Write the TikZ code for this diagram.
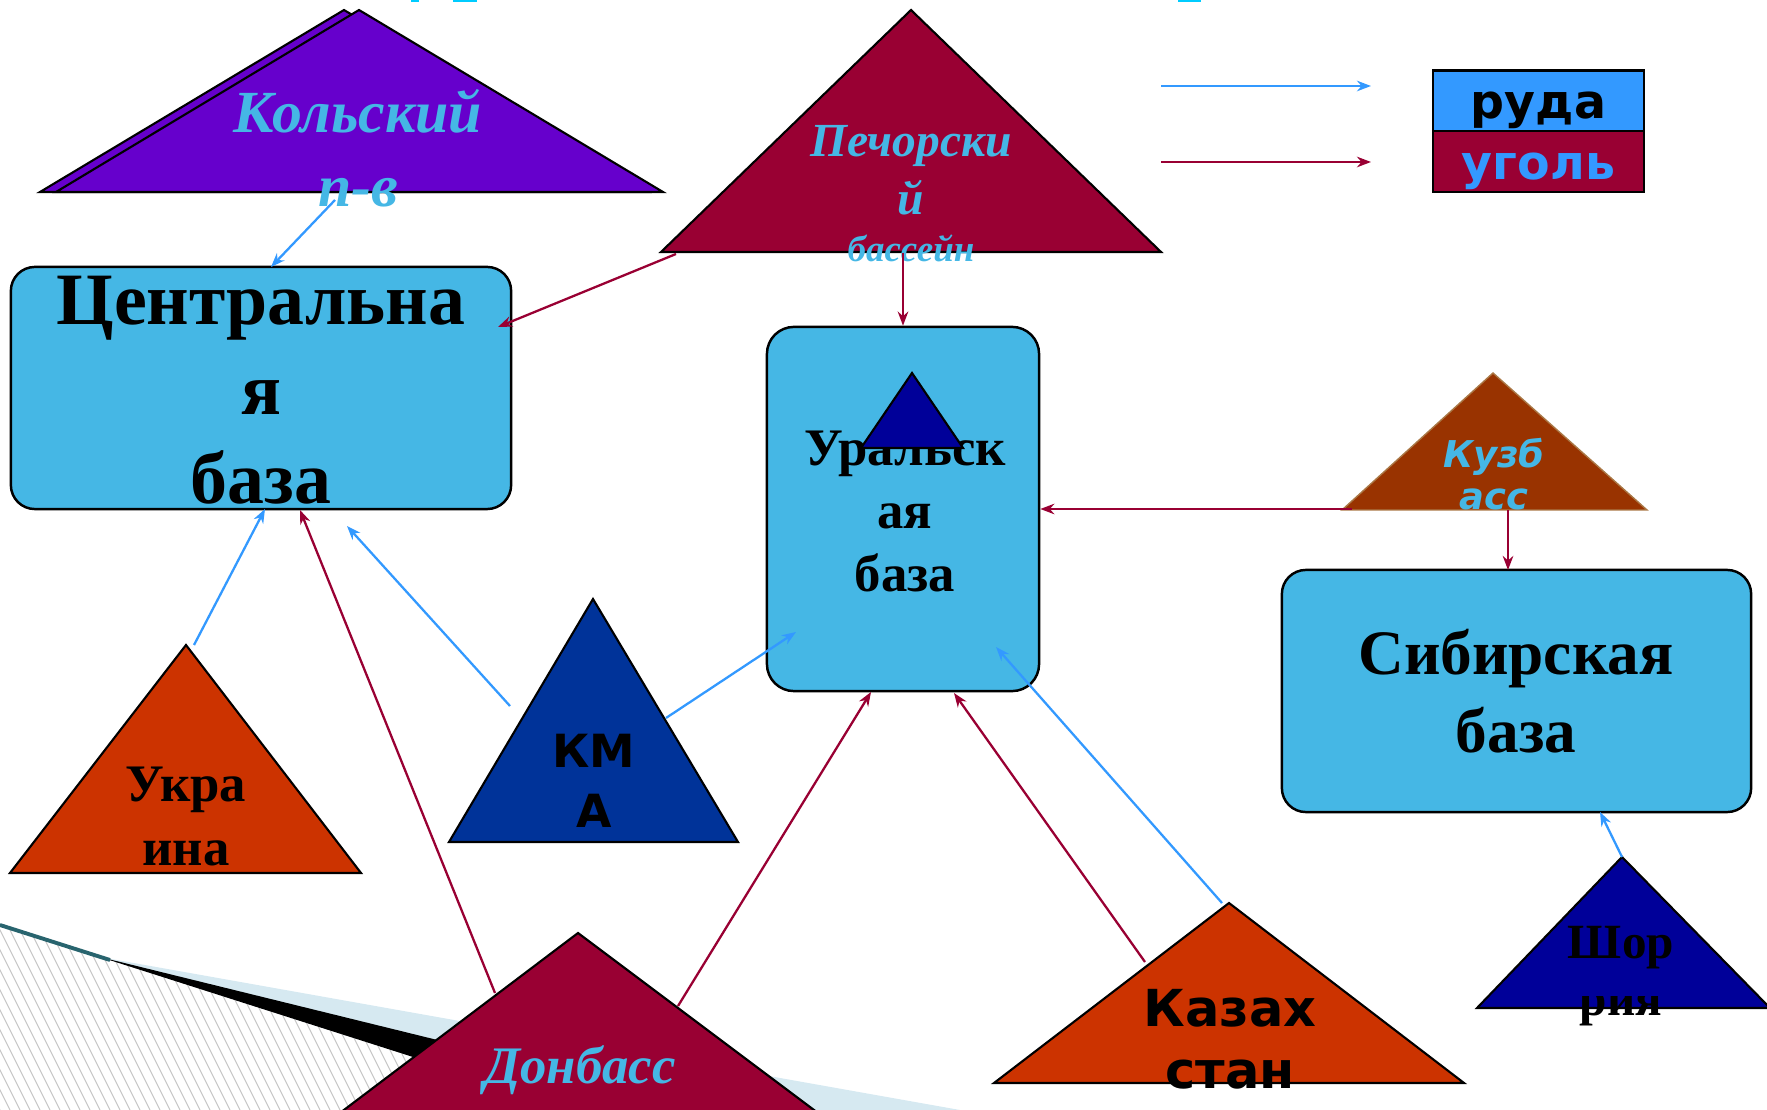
\documentclass[tikz,border=0pt]{standalone}
\usepackage{fontspec}
\setmainfont{Liberation Serif}
\newfontfamily\vrd{DejaVu Sans}
\usetikzlibrary{arrows.meta}
\definecolor{baseC} {RGB}{ 69, 183, 229}
\definecolor{txtC}  {RGB}{ 69, 183, 229}
\definecolor{oreC}  {RGB}{ 51, 153, 255}
\definecolor{coalC} {RGB}{153,   0,  51}
\definecolor{kolaC} {RGB}{102,   0, 204}
\definecolor{redC}  {RGB}{204,  51,   0}
\definecolor{kmaC}  {RGB}{  0,  51, 153}
\definecolor{navyC} {RGB}{  0,   0, 153}
\definecolor{kuzC}  {RGB}{153,  51,   0}
\definecolor{kuzL}  {RGB}{170, 120,  70}
\definecolor{decoC} {RGB}{214, 233, 241}
\definecolor{tealC} {RGB}{ 40, 100, 110}
\definecolor{titleC}{RGB}{  0, 204, 255}
\tikzset{
  basebox/.style = {rectangle, draw=black, fill=baseC, line width=0.7pt,
                    rounded corners=0.24cm, inner sep=0pt},
  legbox/.style  = {rectangle, draw=black, line width=0.7pt, inner sep=0pt,
                    minimum width=2.11cm, minimum height=0.605cm,
                    font=\vrd\bfseries\fontsize{13.5}{16}\selectfont,
                    text height=10pt, text depth=0pt},
  tri/.style     = {draw=black, line width=0.6pt},
  ore/.style     = {-{Stealth[length=4pt,width=3pt]}, draw=oreC,  line width=0.65pt},
  coal/.style    = {-{Stealth[length=4pt,width=3pt]}, draw=coalC, line width=0.65pt},
  serT/.style    = {align=center, anchor=base, inner sep=0pt},
  itT/.style     = {align=center, anchor=base, inner sep=0pt, text=txtC},
}

\begin{document}
\begin{tikzpicture}[x=0.01cm, y=-0.01cm]
\useasboundingbox (0,0) rectangle (1767,1110);

% ---- Slide decoration, bottom left ------------------------------------------
\fill[decoC] (100,957) -- (960,1110) -- (579,1110) -- cycle;
\begin{scope}
  \clip (0,925) -- (413,1057) -- (579,1110) -- (0,1110) -- cycle;
  \fill[white] (0,900) rectangle (600,1110);
  \foreach \x in {-100,-90,...,600}
    \draw[gray!45, line width=0.3pt] (\x,910) -- ++(100,200);
\end{scope}
\fill[black] (100,957) -- (722,1110) -- (579,1110) -- cycle;
\draw[tealC, line width=1.1pt] (0,925) -- (110,960);

% ---- Title remains ------------------------------------------------------------
\fill[titleC] (411,0) rectangle (419,2.5);
\fill[titleC] (453,0) rectangle (477,2.5);
\fill[titleC] (1178,0) rectangle (1201,2.5);

% ---- Bases ------------------------------------------------------------------
\node[basebox, minimum width=5.00cm, minimum height=2.42cm] (cen)  at (261,388)  {};
\node[basebox, minimum width=2.72cm, minimum height=3.64cm,
      rounded corners=0.27cm]                               (ural) at (903,509)  {};
\node[basebox, minimum width=4.69cm, minimum height=2.42cm] (sib)  at (1516.5,691) {};

% base anchor = baseline of the last line
\node[serT, font=\bfseries\fontsize{21}{25.5}\selectfont] (cenT)  at (261,504)
  {Центральна\\я\\база};
\node[serT, font=\bfseries\fontsize{15}{18}\selectfont]   (uralT) at (905,592)
  {Уральск\\ая\\база};
\node[serT, font=\bfseries\fontsize{18}{22}\selectfont]   (sibT)  at (1516,752)
  {Сибирская\\база};

% ---- Basins -----------------------------------------------------------------
\draw[tri, fill=kolaC] (344,10) -- (648,192) -- (40,192) -- cycle;
\draw[tri, fill=kolaC] (359,10) -- (663,192) -- (56,192) -- cycle;
\draw[tri, fill=coalC] (911,10) -- (1161,252) -- (661,252) -- cycle;
\draw[tri, draw=kuzL, line width=0.4pt, fill=kuzC]
  (1493,373) -- (1647,510) -- (1342,510) -- cycle;
\draw[tri, fill=navyC] (1622,857) -- (1770,1008) -- (1477,1008) -- cycle;
\draw[tri, fill=redC]  (186,645) -- (361,873) -- (10,873) -- cycle;
\draw[tri, fill=kmaC]  (593,599) -- (738,842) -- (449,842) -- cycle;
\draw[tri, fill=coalC] (578,933) -- (830,1122) -- (328,1122) -- cycle;
\draw[tri, fill=redC]  (1229,903) -- (1464,1083) -- (994,1083) -- cycle;
\draw[tri, fill=navyC] (912,373) -- (963,448) -- (861,448) -- cycle;

\node[itT, font=\bfseries\itshape\fontsize{17}{21.3}\selectfont] (kola) at (358,207)
  {Кольский\\п-в};
\node[itT, font=\bfseries\itshape\fontsize{13.5}{16.5}\selectfont] (pech) at (911,262)
  {Печорски\\й\\[-3.1pt]{\fontsize{10.5}{12}\selectfont бассейн}};
\node[itT, font=\vrd\bfseries\itshape\fontsize{10.5}{12.2}\selectfont] (kuz) at (1494,510)
  {Кузб\\асс};
\node[serT, font=\bfseries\fontsize{15}{18}\selectfont] (ukr) at (186,865)
  {Укра\\ина};
\node[serT, font=\vrd\bfseries\fontsize{13}{16.8}\selectfont] (kma) at (594,827)
  {КМ\\А};
\node[serT, font=\vrd\bfseries\fontsize{14.5}{17.4}\selectfont] (kaz) at (1230,1088)
  {Казах\\стан};
\node[itT, font=\bfseries\itshape\fontsize{15}{18}\selectfont] (donb) at (580,1083)
  {Донбасс};
\begin{scope}
  \clip (1470,900) rectangle (1767,968) (1470,996) rectangle (1767,1110);
  \node[serT, font=\bfseries\fontsize{14}{16}\selectfont] (shor) at (1621,1015)
    {Шор\\рия};
\end{scope}

% ---- Legend -----------------------------------------------------------------
\node[legbox, fill=oreC]                (lgOre)  at (1538.5,101)   {руда};
\node[legbox, fill=coalC, text=oreC]    (lgCoal) at (1538.5,161.5) {уголь};
\coordinate (lgO1) at (1161,86);   \coordinate (lgO2) at (1371,86);
\coordinate (lgC1) at (1161,162);  \coordinate (lgC2) at (1371,162);
\draw[ore]  (lgO1) -- (lgO2);
\draw[coal] (lgC1) -- (lgC2);

% ---- Connector ends ---------------------------------------------------------
\coordinate (kolaO) at (335,200);   \coordinate (cenK) at (271,267);
\coordinate (pechW) at (676,254);   \coordinate (cenP) at (498,327);
\coordinate (pechS) at (903,253);
\coordinate (kuzW)  at (1352,509);
\coordinate (kuzS)  at (1508,510);  \coordinate (sibK) at (1508,570);
\coordinate (shorN) at (1622,857);  \coordinate (sibS) at (1600,812);
\coordinate (ukrN)  at (194,645);   \coordinate (cenU) at (265,509);
\coordinate (donbW) at (495,993);   \coordinate (cenD) at (300,510);
\coordinate (kmaW)  at (510,706);   \coordinate (cenM) at (347,526);
\coordinate (kmaE)  at (666,718);   \coordinate (uralM) at (796,632);
\coordinate (donbE) at (678,1006);  \coordinate (uralD) at (871,692);
\coordinate (kazW)  at (1145,962);  \coordinate (uralK) at (954,693);
\coordinate (kazN)  at (1222,903);  \coordinate (uralZ) at (996,647);

% ---- Arrows: ore / coal -----------------------------------------------------
\draw[ore]  (kolaO) -- (cenK);
\draw[coal] (pechW) -- (cenP);
\draw[coal] (pechS) -- (ural.north);
\draw[coal] (kuzW)  -- (ural.east);
\draw[coal] (kuzS)  -- (sibK);
\draw[ore]  (shorN) -- (sibS);
\draw[ore]  (ukrN)  -- (cenU);
\draw[coal] (donbW) -- (cenD);
\draw[ore]  (kmaW)  -- (cenM);
\draw[ore]  (kmaE)  -- (uralM);
\draw[coal] (donbE) -- (uralD);
\draw[coal] (kazW)  -- (uralK);
\draw[ore]  (kazN)  -- (uralZ);

\end{tikzpicture}
\end{document}
